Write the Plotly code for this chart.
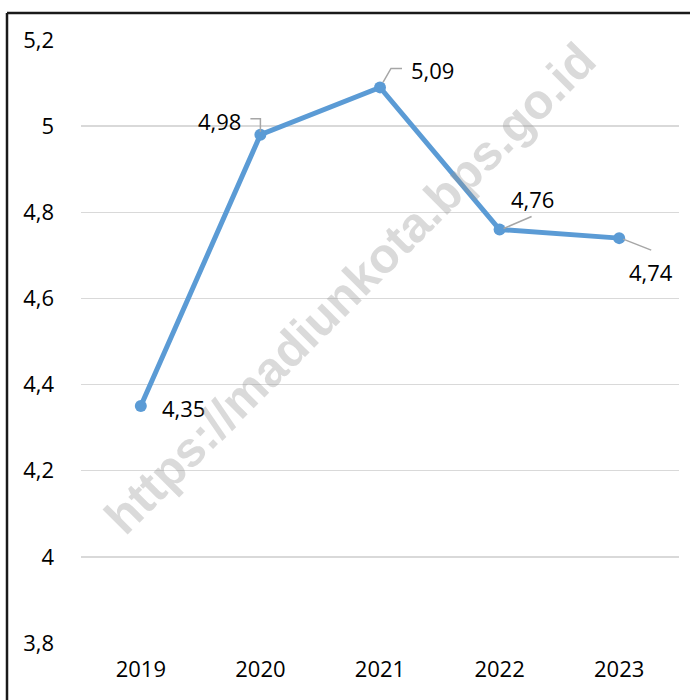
import plotly.graph_objects as go

years = [2019, 2020, 2021, 2022, 2023]
values = [4.35, 4.98, 5.09, 4.76, 4.74]
labels = ["4,35", "4,98", "5,09", "4,76", "4,74"]
y_ticks = [3.8, 4.0, 4.2, 4.4, 4.6, 4.8, 5.0, 5.2]
y_ticktext = ["3,8", "4", "4,2", "4,4", "4,6", "4,8", "5", "5,2"]

# label placement (pixel offsets from point) and leader-line paths (pixels, relative to point)
label_pos = [
    dict(xshift=19, yshift=-2, xanchor="left", yanchor="middle"),
    dict(xshift=-17, yshift=14, xanchor="right", yanchor="middle"),
    dict(xshift=29, yshift=17, xanchor="left", yanchor="middle"),
    dict(xshift=9, yshift=31, xanchor="left", yanchor="middle"),
    dict(xshift=8, yshift=-34, xanchor="left", yanchor="middle"),
]
leaders = [
    None,
    "M-10,16 L0,16 L0,3",
    "M22,19 L11,19 L3,5",
    "M4,1 L32,13",
    "M4,-1 L32,-12",
]

line_color = "#5B9BD5"
font_family = "Open Sans, Liberation Sans, sans-serif"

W, H = 690, 700
L, R, T, B = 81, 11, 40, 57
pw, ph = W - L - R, H - T - B

fig = go.Figure()
fig.add_trace(go.Scatter(
    x=years, y=values, mode="lines+markers",
    line=dict(color=line_color, width=5),
    marker=dict(color=line_color, size=12),
    hoverinfo="skip", showlegend=False,
))

annotations = []
shapes = []
for yr, v, lab, pos, path in zip(years, values, labels, label_pos, leaders):
    annotations.append(dict(
        x=yr, y=v, xref="x", yref="y", text=lab, showarrow=False,
        font=dict(size=22, color="#000000", family=font_family), **pos,
    ))
    if path:
        shapes.append(dict(
            type="path", path=path, xref="x", yref="y",
            xsizemode="pixel", ysizemode="pixel", xanchor=yr, yanchor=v,
            line=dict(color="#A6A6A6", width=1.5), layer="above",
        ))

# watermark
annotations.append(dict(
    x=(350 - L) / pw, y=1 - (288 - T) / ph, xref="paper", yref="paper",
    text="<b>https://madiunkota.bps.go.id</b>", showarrow=False, textangle=-45,
    font=dict(size=49, color="rgba(150,150,150,0.35)", family="Liberation Sans, Arial, sans-serif"),
))

# frame (top and left edges visible)
fx = (7 - L) / pw
fy = 1 + (T - 13) / ph
shapes.append(dict(type="line", xref="paper", yref="paper",
                   x0=fx, x1=1.2, y0=fy, y1=fy,
                   line=dict(color="#1a1a1a", width=2.5)))
shapes.append(dict(type="line", xref="paper", yref="paper",
                   x0=fx, x1=fx, y0=fy, y1=-0.2,
                   line=dict(color="#1a1a1a", width=2.5)))

fig.update_layout(
    width=W, height=H,
    margin=dict(l=L, r=R, t=T, b=B),
    paper_bgcolor="white", plot_bgcolor="white",
    annotations=annotations, shapes=shapes,
    hovermode=False,
    xaxis=dict(
        range=[2018.5, 2023.5], tickvals=years, ticktext=[str(y) for y in years],
        showgrid=False, zeroline=False, showline=False,
        tickfont=dict(size=22, color="#000000", family=font_family),
        ticklabelstandoff=11,
    ),
    yaxis=dict(
        range=[3.8, 5.2], tickvals=y_ticks, ticktext=y_ticktext,
        showgrid=True, gridcolor="#D9D9D9", gridwidth=1.5, zeroline=False, showline=False,
        tickfont=dict(size=22, color="#000000", family=font_family),
        ticklabelstandoff=26,
    ),
)

fig.write_html(
    "out.html",
    config={"displayModeBar": False, "staticPlot": True},
    post_script="document.body.style.margin='0';document.body.style.overflow='hidden';",
)
